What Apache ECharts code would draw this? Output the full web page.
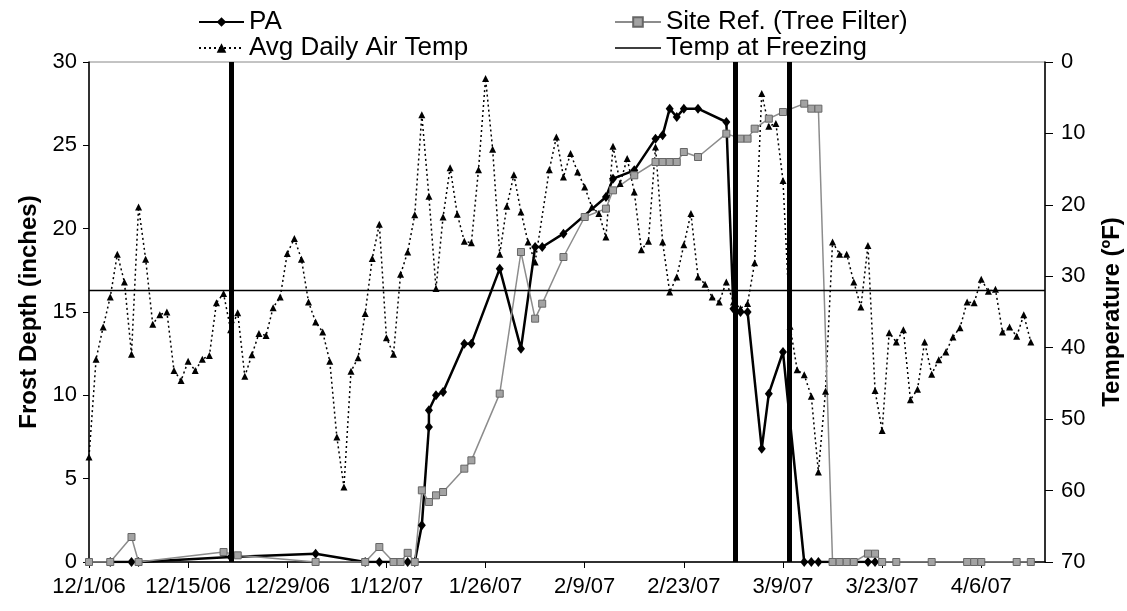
<!DOCTYPE html>
<html>
<head>
<meta charset="utf-8">
<title>Frost Depth</title>
<script src="https://cdn.jsdelivr.net/npm/echarts@6/dist/echarts.min.js"></script>
<style>
  html, body { margin: 0; padding: 0; background: #fff; }
  #Frost { width: 1127px; height: 611px; }
</style>
</head>
<body>
<div id="Frost"></div>
<script>
// x values are days counted from 12/1/06
const tickLabels = ['12/1/06', '12/15/06', '12/29/06', '1/12/07', '1/26/07', '2/9/07', '2/23/07', '3/9/07', '3/23/07', '4/6/07'];

// PA frost depth (inches)
const paDay = [3, 6, 7, 20, 32, 39, 41, 45, 46, 47, 48, 48, 49, 50, 53, 54, 58, 61, 63, 64, 67, 73, 74, 77, 80, 81, 82, 83, 84, 86, 90, 91, 92, 93, 95, 96, 98, 101, 102, 103, 110, 111];
const paDepth = [0, 0, 0, 0.3, 0.5, 0, 0, 0, 0, 2.2, 8.1, 9.1, 10.0, 10.2, 13.1, 13.1, 17.6, 12.8, 18.9, 18.9, 19.7, 21.9, 23.0, 23.5, 25.4, 25.6, 27.2, 26.7, 27.2, 27.2, 26.4, 15.2, 15.0, 15.0, 6.8, 10.1, 12.6, 0, 0, 0, 0, 0];

// Site Ref. (Tree Filter) frost depth (inches)
const siteDay = [0, 3, 6, 7, 19, 21, 32, 39, 41, 43, 44, 45, 46, 47, 48, 49, 50, 53, 54, 58, 61, 63, 64, 67, 70, 73, 74, 77, 80, 81, 82, 83, 84, 86, 90, 92, 93, 94, 96, 98, 101, 102, 103, 105, 106, 107, 108, 110, 111, 112, 114, 119, 124, 125, 126, 131, 133];
const siteDepth = [0, 0, 1.5, 0, 0.6, 0.4, 0, 0, 0.9, 0, 0, 0.55, 0, 4.3, 3.6, 4.0, 4.2, 5.6, 6.1, 10.1, 18.6, 14.6, 15.5, 18.3, 20.7, 21.2, 22.3, 23.2, 24.0, 24.0, 24.0, 24.0, 24.6, 24.3, 25.7, 25.4, 25.4, 26.0, 26.6, 27.0, 27.5, 27.2, 27.2, 0, 0, 0, 0, 0.5, 0.5, 0, 0, 0, 0, 0, 0, 0, 0];

// avg daily air temp (F), one value per day from 12/1/06
const tempF = [
  55.3, 41.6, 37.1, 32.9, 26.9, 30.8, 40.9, 20.3, 27.6, 36.7,
  35.4, 35.0, 43.2, 44.6, 41.9, 43.2, 41.6, 41.1, 33.7, 32.4,
  37.5, 35.1, 44.0, 41.0, 38.0, 38.3, 34.4, 32.9, 26.8, 24.7,
  27.6, 33.6, 36.4, 37.8, 41.9, 52.5, 59.5, 43.3, 41.4, 35.2,
  27.5, 22.7, 38.6, 40.9, 29.7, 26.6, 21.4, 7.4, 18.8, 31.7,
  21.7, 14.8, 21.3, 25.1, 25.3, 15.1, 2.3, 12.2, 26.9, 20.2,
  15.8, 21.0, 25.2, 28.0, null, 15.1, 10.5, 16.1, 12.8, 15.4,
  17.5, 20.3, 21.2, 24.5, 11.8, 17.0, 13.5, 18.2, 26.3, 25.1,
  11.9, 25.2, 32.2, 30.1, 25.6, 21.2, 30.1, 31.1, 32.9, 33.6,
  30.8, 33.6, 34.5, 33.8, 28.1, 4.4, 9.0, 8.6, 16.6, 37.0,
  43.1, 43.8, 46.8, 57.4, 46.1, 25.2, 26.9, 26.9, 30.8, 34.3,
  25.7, 46.0, 51.6, 37.9, 39.2, 37.5, 47.3, 45.8, 39.2, 43.7,
  41.7, 40.6, 38.5, 37.2, 33.6, 33.7, 30.4, 32.1, 31.8, 37.8,
  37.1, 38.4, 35.4, 39.2
];

const freezingF = 32;
const lastDay = 135;           // 4/15/07
const eventDays = [20.15, 91.3, 98.9];  // heavy vertical markers

const font = 'Liberation Sans, Arial, sans-serif';

const paData = paDay.map((d, i) => [d, paDepth[i]]);
const siteData = siteDay.map((d, i) => [d, siteDepth[i]]);
const tempData = tempF.map((t, i) => [i, t]);

// plain thin line for the freezing legend entry (tiny dots keep the box 12px tall)
const lineIcon = 'path://M0,0 L0.01,0 L0,0.01 Z M0,5.3 L46,5.3 L46,6.7 L0,6.7 Z M0,12 L0.01,12 L0,11.99 Z';

const legendText = { fontSize: 26, color: '#000', fontFamily: font, lineHeight: 24 };

const option = {
  animation: false,
  textStyle: { fontFamily: font, color: '#000' },
  legend: [
    {
      orient: 'vertical', left: 198, top: 9, padding: 0, itemGap: 0,
      itemWidth: 45, itemHeight: 12,
      textStyle: legendText,
      data: ['PA', 'Avg Daily Air Temp']
    },
    {
      orient: 'vertical', left: 614, top: 9, padding: 0, itemGap: 0,
      itemWidth: 46, itemHeight: 12,
      textStyle: legendText,
      data: ['Site Ref. (Tree Filter)', { name: 'Temp at Freezing', icon: lineIcon, itemStyle: { color: '#000' } }]
    }
  ],
  grid: {
    left: 89, right: 82, top: 62, bottom: 49,
    outerBoundsMode: 'none', containLabel: false,
    show: true, borderColor: '#888', borderWidth: 1
  },
  xAxis: {
    type: 'value', min: 0, max: lastDay, interval: 14,
    axisLine: { show: true, lineStyle: { color: '#000', width: 1.5 } },
    axisTick: { show: true, length: 6, lineStyle: { color: '#000' } },
    axisLabel: {
      fontSize: 22, color: '#000', margin: 14, showMaxLabel: false,
      formatter: v => tickLabels[v / 14] || ''
    },
    splitLine: { show: false }
  },
  yAxis: [
    {
      type: 'value', min: 0, max: 30, interval: 5, position: 'left',
      name: 'Frost Depth (inches)', nameLocation: 'middle', nameGap: 46, nameRotate: 90,
      nameTextStyle: { fontSize: 24, fontWeight: 'bold', color: '#000', fontFamily: font },
      axisLine: { show: true, lineStyle: { color: '#000', width: 1.5 } },
      axisTick: { show: true, length: 6, lineStyle: { color: '#000' } },
      axisLabel: { fontSize: 22, color: '#000', margin: 12 },
      splitLine: { show: false }
    },
    {
      type: 'value', min: 0, max: 70, interval: 10, position: 'right', inverse: true,
      name: 'Temperature (ºF)', nameLocation: 'middle', nameGap: 55, nameRotate: 90,
      nameTextStyle: { fontSize: 24, fontWeight: 'bold', color: '#000', fontFamily: font },
      axisLine: { show: true, lineStyle: { color: '#000', width: 1.5 } },
      axisTick: { show: true, length: 8, lineStyle: { color: '#000' } },
      axisLabel: { fontSize: 22, color: '#000', margin: 16 },
      splitLine: { show: false }
    }
  ],
  series: [
    {
      name: 'Avg Daily Air Temp', type: 'line', yAxisIndex: 1,
      data: tempData, connectNulls: true,
      symbol: 'triangle', symbolSize: 7,
      itemStyle: { color: '#000' },
      lineStyle: { color: '#000', width: 1.5, type: [2, 3] }
    },
    {
      name: 'PA', type: 'line', yAxisIndex: 0,
      data: paData,
      symbol: 'diamond', symbolSize: [8, 10],
      itemStyle: { color: '#000' },
      lineStyle: { color: '#000', width: 2.5 }
    },
    {
      name: 'Site Ref. (Tree Filter)', type: 'line', yAxisIndex: 0,
      data: siteData,
      symbol: 'rect', symbolSize: 7,
      itemStyle: { color: '#a3a3a3', borderColor: '#666', borderWidth: 1 },
      lineStyle: { color: '#8c8c8c', width: 1.5 }
    },
    {
      name: 'Temp at Freezing', type: 'line', yAxisIndex: 1,
      data: [[0, freezingF], [lastDay, freezingF]],
      symbol: 'none',
      itemStyle: { color: '#000' },
      lineStyle: { color: '#000', width: 1.5 },
      markLine: {
        silent: true, symbol: ['none', 'none'],
        label: { show: false },
        lineStyle: { color: '#000', width: 5, type: 'solid' },
        data: eventDays.map(d => ({ xAxis: d }))
      }
    }
  ]
};

const myChart = echarts.init(document.getElementById('Frost'));
myChart.setOption(option);
</script>
</body>
</html>
